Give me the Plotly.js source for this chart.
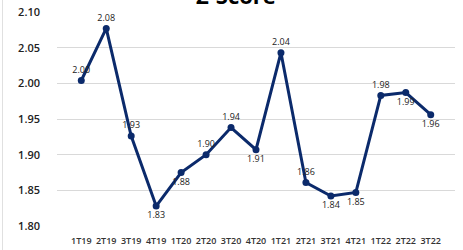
<!DOCTYPE html>
<html><head><meta charset="utf-8">
<script src="https://cdn.plot.ly/plotly-3.0.1.min.js"></script>
<style>html,body{margin:0;padding:0;background:#fff;}#chart{width:463px;height:250px;}</style>
</head><body><div id="chart"></div>
<script>
const categories = ["1T19","2T19","3T19","4T19","1T20","2T20","3T20","4T20","1T21","2T21","3T21","4T21","1T22","2T22","3T22"];
const values = [2.004, 2.077, 1.926, 1.828, 1.875, 1.900, 1.938, 1.907, 2.043, 1.861, 1.842, 1.847, 1.983, 1.987, 1.956];
const labels = ["2.00","2.08","1.93","1.83","1.88","1.90","1.94","1.91","2.04","1.86","1.84","1.85","1.98","1.99","1.96"];
const labelPos = ["top center","top center","top center","bottom center","bottom center","top center","top center","bottom center","top center","top center","bottom center","bottom center","top center","bottom center","bottom center"];
const titleText = "Z-Score";

const trace = {
  x: categories, y: values, type: 'scatter', mode: 'lines+markers+text',
  line: {color: '#0b2a6b', width: 3},
  marker: {color: '#0b2a6b', size: 7},
  text: labels, textposition: labelPos,
  textfont: {family: 'Open Sans, sans-serif', size: 9, color: '#222222'},
  cliponaxis: false, hoverinfo: 'none'
};
const layout = {
  width: 463, height: 250,
  margin: {l: 57, r: 8, t: 12, b: 24},
  paper_bgcolor: '#ffffff', plot_bgcolor: '#ffffff',
  showlegend: false,
  annotations: [{text: '<b>' + titleText + '</b>', xref: 'paper', yref: 'paper', x: 0.45, y: 1.0, xanchor: 'center', yanchor: 'bottom',
                 showarrow: false, font: {family: 'Open Sans, sans-serif', size: 22, color: '#000000'}}],
  xaxis: {type: 'category', showgrid: false, zeroline: false, showline: false,
          tickfont: {family: 'Open Sans, sans-serif', size: 9, color: '#333333', weight: 600},
          ticks: '', ticklabelstandoff: 8},
  yaxis: {range: [1.80, 2.10], dtick: 0.05, tickformat: '.2f', showgrid: true, gridcolor: '#d9d9d9', gridwidth: 1,
          zeroline: false, showline: false, ticks: '', ticklabelstandoff: 16,
          tickfont: {family: 'Open Sans, sans-serif', size: 11, color: '#222222', weight: 600}},
  shapes: [{type: 'line', xref: 'paper', yref: 'paper', x0: -0.137, x1: -0.137, y0: -0.12, y1: 1.06,
            line: {color: '#e0e0e0', width: 1}}]
};
Plotly.newPlot('chart', [trace], layout, {displayModeBar: false, staticPlot: true});
</script>
</body></html>
